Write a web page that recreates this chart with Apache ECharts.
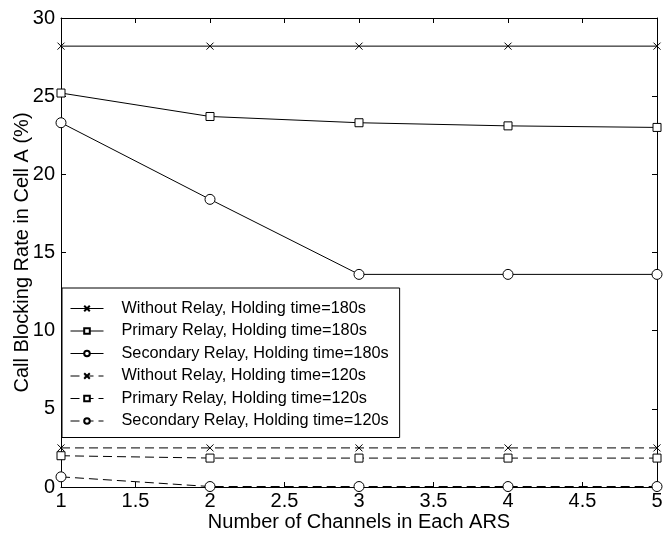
<!DOCTYPE html>
<html><head><meta charset="utf-8">
<script src="https://cdn.jsdelivr.net/npm/echarts@6/dist/echarts.min.js"></script>
<style>html,body{margin:0;padding:0;background:#fff}#c{width:666px;height:535px}</style>
</head><body><div id="c"></div>
<script>
const channels = [1, 2, 3, 4, 5];
const without180 = [28.2, 28.2, 28.2, 28.2, 28.2];
const primary180 = [25.2, 23.7, 23.3, 23.1, 23.0];
const secondary180 = [23.3, 18.4, 13.6, 13.6, 13.6];
const without120 = [2.5, 2.5, 2.5, 2.5, 2.5];
const primary120 = [2.0, 1.85, 1.85, 1.85, 1.85];
const secondary120 = [0.65, 0.03, 0.03, 0.03, 0.03];
const seriesNames = [
  'Without Relay, Holding time=180s',
  'Primary Relay, Holding time=180s',
  'Secondary Relay, Holding time=180s',
  'Without Relay, Holding time=120s',
  'Primary Relay, Holding time=120s',
  'Secondary Relay, Holding time=120s'
];
const xTicks = ['1','1.5','2','2.5','3','3.5','4','4.5','5'];

const FONT = 'Liberation Sans';
const crossPath = 'path://M0,0L10,10M10,0L0,10';
function mk(name, vals, symbol, size, dashed) {
  return {
    name: name, type: 'line',
    data: channels.map((x, i) => [x, vals[i]]),
    symbol: symbol, symbolSize: size, showSymbol: true,
    lineStyle: { color: '#000', width: 1, type: dashed ? [9, 5] : 'solid' },
    itemStyle: { color: symbol === crossPath ? '#000' : '#fff', borderColor: '#000', borderWidth: 1 },
    emphasis: { disabled: true },
    animation: false
  };
}
const chart = echarts.init(document.getElementById('c'));
const tickStyle = { show: true, inside: true, length: 5, lineStyle: { color: '#000' } };
const lineStyleAx = { show: true, onZero: false, lineStyle: { color: '#000', width: 1 } };
chart.setOption({
  backgroundColor: '#fff',
  animation: false,
  grid: { left: 61, right: 9, top: 18, bottom: 48, containLabel: false, outerBoundsMode: 'none' },
  xAxis: [{
    type: 'value', min: 1, max: 5, interval: 0.5,
    axisLine: lineStyleAx, axisTick: tickStyle, splitLine: { show: false },
    axisLabel: { color: '#000', fontFamily: FONT, fontSize: 20, margin: 4,
      formatter: v => xTicks[Math.round((v - 1) * 2)] },
    name: 'Number of Channels in Each ARS', nameLocation: 'middle', nameGap: 25,
    nameMoveOverlap: false,
    nameTextStyle: { color: '#000', fontFamily: FONT, fontSize: 20 }
  }, {
    type: 'value', min: 1, max: 5, interval: 0.5, position: 'top',
    axisLine: lineStyleAx, axisTick: tickStyle, splitLine: { show: false }, axisLabel: { show: false }
  }],
  yAxis: [{
    type: 'value', min: 0, max: 30, interval: 5,
    axisLine: lineStyleAx, axisTick: tickStyle, splitLine: { show: false },
    axisLabel: { color: '#000', fontFamily: FONT, fontSize: 20, margin: 6 },
    name: 'Call Blocking Rate in Cell A (%)', nameLocation: 'middle', nameGap: 29,
    nameMoveOverlap: false,
    nameTextStyle: { color: '#000', fontFamily: FONT, fontSize: 20 }
  }, {
    type: 'value', min: 0, max: 30, interval: 5, position: 'right',
    axisLine: lineStyleAx, axisTick: tickStyle, splitLine: { show: false }, axisLabel: { show: false }
  }],
  legend: {
    orient: 'vertical', left: 62, top: 288,
    backgroundColor: '#fff', borderColor: '#000', borderWidth: 1, borderRadius: 0,
    padding: [12.5, 11, 8.5, 8],
    itemWidth: 33, itemHeight: 7, itemGap: 6.5,
    lineStyle: { width: 1 },
    textStyle: { color: '#000', fontFamily: FONT, fontSize: 16.3, padding: [0, 0, 0, 13] },
    selectedMode: false,
    data: seriesNames
  },
  series: [
    mk(seriesNames[0], without180, crossPath, 7, false),
    mk(seriesNames[1], primary180, 'rect', 8, false),
    mk(seriesNames[2], secondary180, 'circle', 10, false),
    mk(seriesNames[3], without120, crossPath, 7, true),
    mk(seriesNames[4], primary120, 'rect', 8, true),
    mk(seriesNames[5], secondary120, 'circle', 10, true)
  ]
});
</script></body></html>
